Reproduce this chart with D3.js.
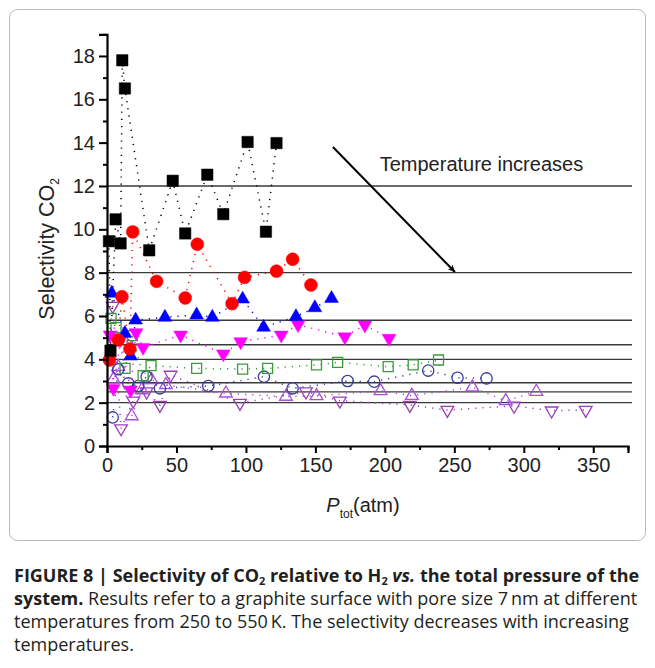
<!DOCTYPE html>
<html><head><meta charset="utf-8">
<script src="https://cdn.jsdelivr.net/npm/d3@7"></script>
<style>
html,body{margin:0;padding:0;background:#fff;}
svg{display:block;}
</style></head>
<body>
<svg id="chart" width="655" height="668"></svg>
<script>
// ---- data ----
const xTicks = [0, 50, 100, 150, 200, 250, 300, 350];
const yTicks = [0, 2, 4, 6, 8, 10, 12, 14, 16, 18];
const refLines = [12, 8, 5.8, 4.67, 4.0, 2.92, 2.5, 2.0];

const blackSquares = [[1.4,9.45],[2.5,4.4],[6.2,10.46],[9.8,9.35],[11,17.8],[12.9,16.5],[30.4,9.03],[47.3,12.24],[56.3,9.81],[72.2,12.52],[83.7,10.7],[101.2,14.03],[114.4,9.89],[122,13.98]];
const redCircles = [[1.7,3.97],[8.1,4.89],[10.8,6.89],[16.5,4.48],[18.5,9.88],[35.7,7.6],[56.3,6.83],[65,9.31],[90,6.57],[99,7.78],[122,8.07],[133.6,8.62],[146.8,7.43]];
const blueTriangles = [[3.4,7.05],[12.9,5.2],[17,4.15],[20.6,5.81],[41.7,5.94],[64.5,6.05],[75.8,5.94],[97.6,6.78],[112.7,5.48],[136,5.97],[149.6,6.38],[161.6,6.81]];
const magentaTriangles = [[2.2,5.12],[4.6,2.66],[9.8,4.92],[17,2.58],[20.9,5.23],[26,4.55],[53,5.12],[83.7,4.25],[96.2,4.81],[125.4,5.12],[137.5,5.6],[171.2,5.04],[185.6,5.58],[203,4.97]];
const greenSquares = [[2.9,5.89],[6.5,5.46],[13,3.58],[18.2,5.09],[26,3.25],[31.7,3.71],[64.5,3.58],[97.6,3.55],[115.6,3.58],[150.8,3.74],[166,3.86],[202.4,3.66],[220.4,3.74],[238.6,3.97]];
const navyCircles = [[4.1,1.32],[8.1,3.54],[15.3,2.89],[22.5,2.77],[28.5,3.2],[38.1,2.66],[72.9,2.77],[113,3.2],[133.6,2.66],[173.2,3.0],[192.3,2.97],[231.2,3.48],[252.3,3.15],[273.2,3.12]];
const purpleUp = [[4.6,3.08],[8.1,3.66],[17.8,1.38],[25,2.58],[32.1,3.05],[42.4,2.82],[85.6,2.43],[128.8,2.28],[150.8,2.31],[196.9,2.54],[219.4,2.32],[263,2.71],[287,2.08],[309,2.51]];
const purpleDown = [[4.1,6.46],[10.1,0.81],[18.9,2.09],[28.5,2.51],[38.1,1.89],[45.8,3.28],[95.7,1.98],[143.2,2.51],[167.6,2.09],[218,1.89],[245,1.66],[293,1.85],[320,1.63],[344.6,1.66]];

const arrowFrom = [162.6, 13.8];
const arrowTo = [250.4, 8.03];
const annotation = "Temperature increases";
const annotationPos = [269.5, 12.7];

const series = [
  {data: purpleDown, type: "triDown", color: "#9a3fb5", fill: false},
  {data: purpleUp, type: "triUp", color: "#a84fd6", fill: false},
  {data: navyCircles, type: "circle", color: "#3b3b9e", fill: false},
  {data: greenSquares, type: "square", color: "#3d9a3d", fill: false},
  {data: magentaTriangles, type: "triDown", color: "#ff00ff", fill: true},
  {data: blueTriangles, type: "triUp", color: "#0000ff", fill: true},
  {data: redCircles, type: "circle", color: "#ff0000", fill: true},
  {data: blackSquares, type: "square", color: "#000000", fill: true}
];

// ---- drawing ----
const svg = d3.select("#chart");
const x = d3.scaleLinear().domain([0, 375]).range([107, 628]);
const y = d3.scaleLinear().domain([0, 19]).range([446, 34.3]);

// outer frame
svg.append("rect").attr("x", 9.5).attr("y", 9.5).attr("width", 636).attr("height", 531)
  .attr("rx", 8).attr("fill", "none").attr("stroke", "#b9b9b9").attr("stroke-width", 1);

// reference lines
svg.append("g").selectAll("line").data(refLines).join("line")
  .attr("x1", x(0)).attr("x2", 632)
  .attr("y1", d => y(d)).attr("y2", d => y(d))
  .attr("stroke", "#3a3a3a").attr("stroke-width", 1.4);

// dotted series lines
const line = d3.line().x(d => x(d[0])).y(d => y(d[1]));
series.forEach(s => {
  svg.append("path").attr("d", line(s.data))
    .attr("fill", "none").attr("stroke", s.color)
    .attr("stroke-width", 1.5).attr("stroke-dasharray", "1.2,6")
    .attr("stroke-linecap", "butt");
});

// markers
function symbolFor(s) {
  if (s.type === "square") return d3.symbol().type(d3.symbolSquare).size(s.fill ? 130 : 100)();
  if (s.type === "circle") return d3.symbol().type(d3.symbolCircle).size(s.fill ? 130 : 100)();
  return d3.symbol().type(d3.symbolTriangle).size(s.fill ? 82 : 70)();
}
series.forEach(s => {
  const path = symbolFor(s);
  svg.append("g").selectAll("path").data(s.data).join("path")
    .attr("d", path)
    .attr("transform", d => `translate(${x(d[0])},${y(d[1])})` + (s.type === "triDown" ? " rotate(180)" : ""))
    .attr("fill", s.fill ? s.color : "none")
    .attr("stroke", s.color)
    .attr("stroke-width", s.fill ? 0.5 : 1.3);
});

// axes
const font = "'Liberation Sans', Arial, sans-serif";
const xAxis = svg.append("g").attr("transform", `translate(0,${y(0)})`)
  .call(d3.axisBottom(x).tickValues(xTicks).tickSize(7).tickPadding(5).tickFormat(d3.format("d")));
const xMinor = svg.append("g").attr("transform", `translate(0,${y(0)})`)
  .call(d3.axisBottom(x).tickValues(xTicks.map(t => t + 25)).tickSize(4).tickFormat(""));
const yAxis = svg.append("g").attr("transform", `translate(${x(0)},0)`)
  .call(d3.axisLeft(y).tickValues(yTicks).tickSize(8).tickPadding(4).tickFormat(d3.format("d")));
const yMinor = svg.append("g").attr("transform", `translate(${x(0)},0)`)
  .call(d3.axisLeft(y).tickValues(yTicks.map(t => t + 1)).tickSize(4).tickFormat(""));
[xAxis, xMinor, yAxis, yMinor].forEach(g => {
  g.select(".domain").attr("stroke", "#000").attr("stroke-width", 2.2);
  g.selectAll(".tick line").attr("stroke", "#000").attr("stroke-width", 2);
  g.selectAll(".tick text").attr("font-family", font).attr("font-size", 20).attr("fill", "#222");
});
xMinor.select(".domain").remove();
yMinor.select(".domain").remove();

// axis titles
const yt = svg.append("text").attr("transform", `translate(54,${y(9.1)}) rotate(-90)`)
  .attr("text-anchor", "middle").attr("font-family", font).attr("font-size", 21.5).attr("fill", "#222");
yt.append("tspan").text("Selectivity CO");
yt.append("tspan").attr("font-size", 12).attr("dy", 5).text("2");

const xt = svg.append("text").attr("x", 363).attr("y", 512)
  .attr("text-anchor", "middle").attr("font-family", font).attr("font-size", 20).attr("fill", "#222");
xt.append("tspan").attr("font-style", "italic").text("P");
xt.append("tspan").attr("font-size", 12).attr("dy", 6).text("tot");
xt.append("tspan").attr("dy", -6).text("(atm)");

// annotation
svg.append("defs").append("marker").attr("id", "ah").attr("viewBox", "0 0 10 10")
  .attr("refX", 9).attr("refY", 5).attr("markerWidth", 8).attr("markerHeight", 8)
  .attr("orient", "auto").attr("markerUnits", "userSpaceOnUse")
  .append("path").attr("d", "M0,1 L10,5 L0,9 L3,5 Z").attr("fill", "#000");
svg.append("line")
  .attr("x1", x(arrowFrom[0])).attr("y1", y(arrowFrom[1]))
  .attr("x2", x(arrowTo[0])).attr("y2", y(arrowTo[1]))
  .attr("stroke", "#000").attr("stroke-width", 2).attr("marker-end", "url(#ah)");
svg.append("text").attr("x", x(annotationPos[0])).attr("y", y(annotationPos[1]))
  .attr("text-anchor", "middle").attr("font-family", font).attr("font-size", 20).attr("fill", "#222")
  .text(annotation);

// caption
const capFont = "'Open Sans', 'Noto Sans', sans-serif";
const cap = svg.append("text").attr("font-family", capFont).attr("font-size", 18).attr("fill", "#231f20");
const l1 = cap.append("tspan").attr("x", 14).attr("y", 582).attr("font-weight", "bold");
l1.append("tspan").text("FIGURE 8 | Selectivity of CO");
l1.append("tspan").attr("font-size", 11).attr("dy", 2.5).text("2");
l1.append("tspan").attr("dy", -2.5).text(" relative to H");
l1.append("tspan").attr("font-size", 11).attr("dy", 2.5).text("2");
l1.append("tspan").attr("dy", -2.5).attr("font-style", "italic").text(" vs.");
l1.append("tspan").text(" the total pressure of the");
const l2 = cap.append("tspan").attr("x", 14).attr("y", 605);
l2.append("tspan").attr("font-weight", "bold").text("system.");
l2.append("tspan").text(" Results refer to a graphite surface with pore size 7\u2009nm at different");
cap.append("tspan").attr("x", 14).attr("y", 628).text("temperatures from 250 to 550\u2009K. The selectivity decreases with increasing");
cap.append("tspan").attr("x", 14).attr("y", 651).text("temperatures.");
</script>
</body></html>
